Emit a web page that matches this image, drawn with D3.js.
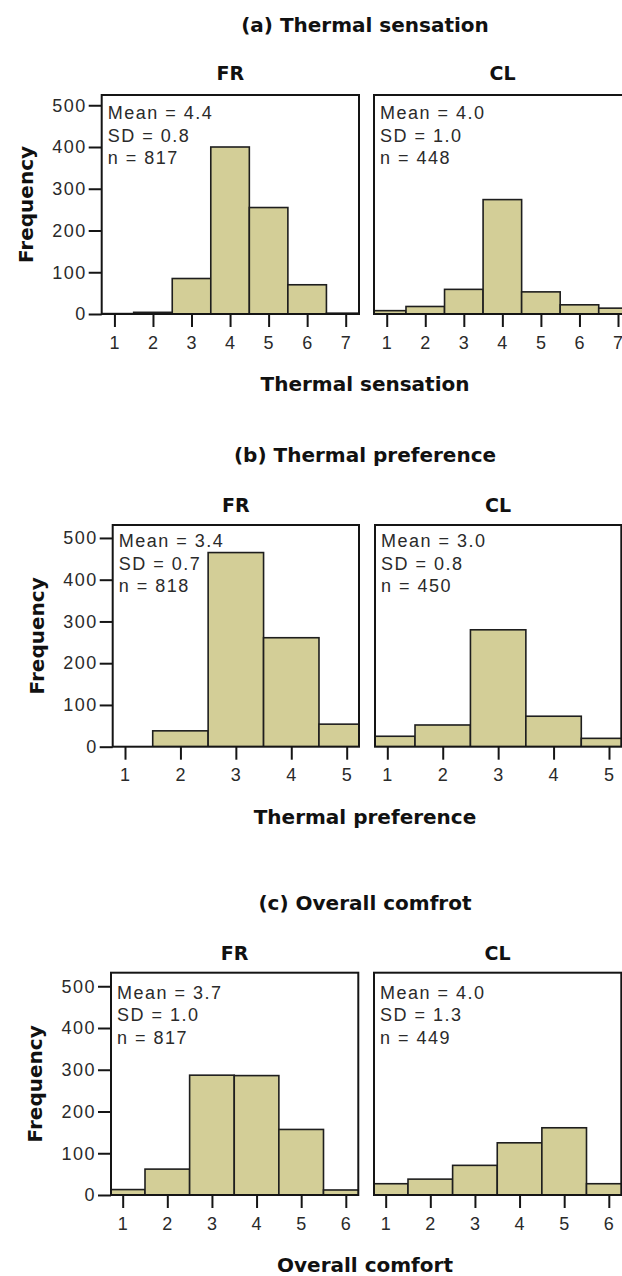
<!DOCTYPE html>
<html>
<head>
<meta charset="utf-8">
<script src="https://cdn.jsdelivr.net/npm/d3@7"></script>
<style>
  html, body { margin: 0; padding: 0; background: #fff; }
  svg { display: block; }
</style>
</head>
<body>
<script>
// ---------------- data ----------------
const panelTitles = ["(a) Thermal sensation", "(b) Thermal preference", "(c) Overall comfrot"];
const axisTitles = ["Thermal sensation", "Thermal preference", "Overall comfort"];
const groups = ["FR", "CL"];
const yTicks = [0, 100, 200, 300, 400, 500];

const categoriesA = [1, 2, 3, 4, 5, 6, 7];
const categoriesB = [1, 2, 3, 4, 5];
const categoriesC = [1, 2, 3, 4, 5, 6];

const freqA_FR = [1, 4, 85, 400, 255, 70, 2];
const freqA_CL = [8, 18, 59, 274, 53, 22, 14];
const freqB_FR = [0, 38, 465, 261, 54];
const freqB_CL = [25, 52, 280, 73, 20];
const freqC_FR = [13, 62, 287, 286, 157, 12];
const freqC_CL = [27, 38, 71, 125, 161, 27];

const statsA_FR = ["Mean = 4.4", "SD = 0.8", "n = 817"];
const statsA_CL = ["Mean = 4.0", "SD = 1.0", "n = 448"];
const statsB_FR = ["Mean = 3.4", "SD = 0.7", "n = 818"];
const statsB_CL = ["Mean = 3.0", "SD = 0.8", "n = 450"];
const statsC_FR = ["Mean = 3.7", "SD = 1.0", "n = 817"];
const statsC_CL = ["Mean = 4.0", "SD = 1.3", "n = 449"];

// ---------------- layout ----------------
const rows = [
  { cats: categoriesA, freqs: [freqA_FR, freqA_CL], stats: [statsA_FR, statsA_CL],
    top: 95, bottom: 314, boxes: [[101.7, 359], [374, 631.3]], xdom: [0.67, 7.345],
    titleY: 32, labelY: 80, statY0: 24 },
  { cats: categoriesB, freqs: [freqB_FR, freqB_CL], stats: [statsB_FR, statsB_CL],
    top: 525, bottom: 746.7, boxes: [[112.7, 359], [375, 621.3]], xdom: [0.778, 5.222],
    titleY: 462, labelY: 512, statY0: 22 },
  { cats: categoriesC, freqs: [freqC_FR, freqC_CL], stats: [statsC_FR, statsC_CL],
    top: 972.7, bottom: 1195, boxes: [[111, 358.3], [374, 621.3]], xdom: [0.738, 6.28],
    titleY: 910, labelY: 960, statY0: 26 }
];

const W = 622, H = 1276;
const PX_PER_UNIT = 0.4175;
const BOLD = "'DejaVu Sans', Verdana, sans-serif";
const REG = "'Liberation Sans', Arial, sans-serif";
const FILL = "#d3ce97";

const svg = d3.select("body").append("svg")
  .attr("width", W).attr("height", H)
  .attr("viewBox", `0 0 ${W} ${H}`);
svg.append("rect").attr("width", W).attr("height", H).attr("fill", "#fff");

const defs = svg.append("defs");

rows.forEach((row, ri) => {
  // panel title
  svg.append("text")
    .attr("x", 365).attr("y", row.titleY)
    .attr("text-anchor", "middle")
    .attr("font-family", BOLD).attr("font-weight", "bold").attr("font-size", 20)
    .attr("fill", "#111")
    .text(panelTitles[ri]);

  // x axis title
  svg.append("text")
    .attr("x", 365).attr("y", row.bottom + 77)
    .attr("text-anchor", "middle")
    .attr("font-family", BOLD).attr("font-weight", "bold").attr("font-size", 20)
    .attr("fill", "#111")
    .text(axisTitles[ri]);

  row.boxes.forEach((bx, gi) => {
    const [x0, x1] = bx;
    const x = d3.scaleLinear().domain(row.xdom).range([x0, x1]);
    const y = d3.scaleLinear().domain([0, 500]).range([row.bottom, row.bottom - 500 * PX_PER_UNIT]);

    const clipId = `clip-${ri}-${gi}`;
    defs.append("clipPath").attr("id", clipId)
      .append("rect")
      .attr("x", x0).attr("y", row.top)
      .attr("width", x1 - x0).attr("height", row.bottom - row.top);

    // group label
    svg.append("text")
      .attr("x", (x0 + x1) / 2).attr("y", row.labelY)
      .attr("text-anchor", "middle")
      .attr("font-family", BOLD).attr("font-weight", "bold").attr("font-size", 19)
      .attr("fill", "#111")
      .text(groups[gi]);

    // bars
    const data = row.cats.map((c, i) => ({ c, v: row.freqs[gi][i] })).filter(d => d.v > 0);
    svg.append("g").attr("clip-path", `url(#${clipId})`)
      .selectAll("rect")
      .data(data)
      .join("rect")
      .attr("x", d => x(d.c - 0.5))
      .attr("width", d => x(d.c + 0.5) - x(d.c - 0.5))
      .attr("y", d => y(d.v))
      .attr("height", d => y(0) - y(d.v))
      .attr("fill", FILL)
      .attr("stroke", "#1e1e1e")
      .attr("stroke-width", 1.6);

    // frame
    svg.append("rect")
      .attr("x", x0).attr("y", row.top)
      .attr("width", x1 - x0).attr("height", row.bottom - row.top)
      .attr("fill", "none").attr("stroke", "#151515").attr("stroke-width", 2);

    // x axis
    const gx = svg.append("g")
      .attr("transform", `translate(0,${row.bottom})`)
      .call(d3.axisBottom(x).tickValues(row.cats).tickSize(13).tickPadding(9).tickFormat(d3.format("d")));
    gx.select(".domain").remove();
    gx.selectAll(".tick line").attr("stroke", "#151515").attr("stroke-width", 2);
    gx.selectAll(".tick text")
      .attr("font-family", REG).attr("font-size", 18).attr("fill", "#2a2a2a")
      .attr("letter-spacing", "1px");

    // stats text
    const st = svg.append("g");
    row.stats[gi].forEach((s, k) => {
      st.append("text")
        .attr("x", x0 + 6).attr("y", row.top + row.statY0 + k * 22.5)
        .attr("font-family", REG).attr("font-size", 18).attr("fill", "#2a2a2a")
        .attr("letter-spacing", "1.5px")
        .text(s);
    });

    if (gi === 0) {
      // y axis
      const gy = svg.append("g")
        .attr("transform", `translate(${x0},0)`)
        .call(d3.axisLeft(y).tickValues(yTicks).tickSize(13).tickPadding(2));
      gy.select(".domain").remove();
      gy.selectAll(".tick line").attr("stroke", "#151515").attr("stroke-width", 2);
      gy.selectAll(".tick text")
        .attr("font-family", REG).attr("font-size", 18).attr("fill", "#2a2a2a")
        .attr("letter-spacing", "1.5px");

      // y axis title
      svg.append("text")
        .attr("transform", `translate(${x0 - 69},${(row.top + row.bottom) / 2}) rotate(-90)`)
        .attr("text-anchor", "middle")
        .attr("font-family", BOLD).attr("font-weight", "bold").attr("font-size", 20)
        .attr("fill", "#111")
        .text("Frequency");
    }
  });
});
</script>
</body>
</html>
